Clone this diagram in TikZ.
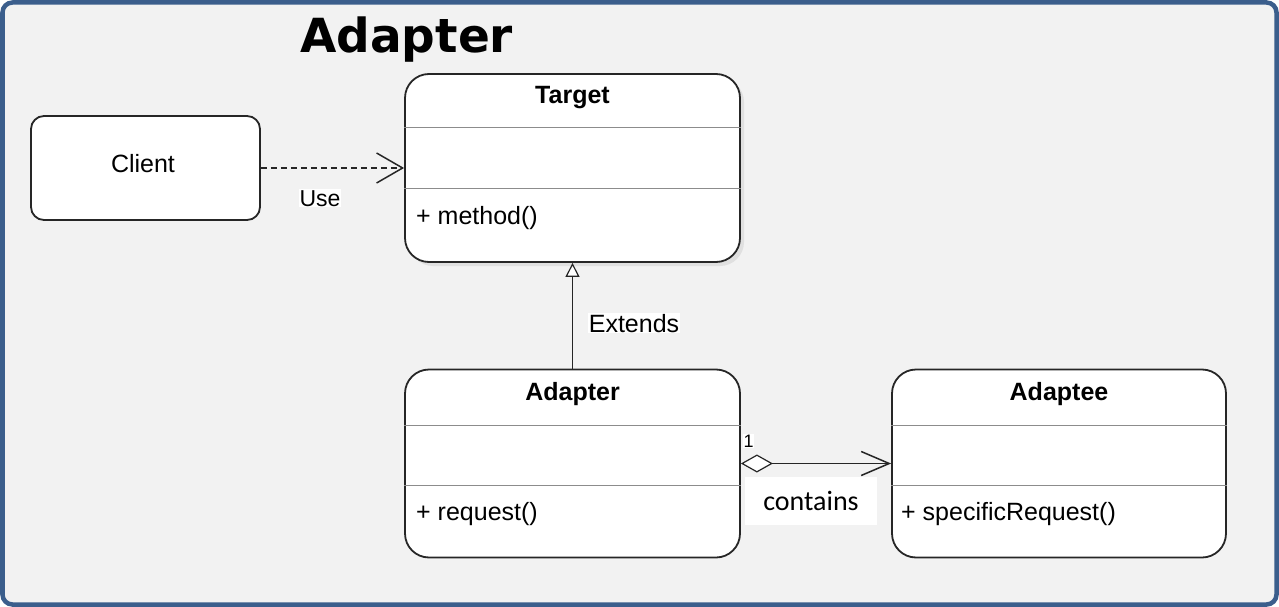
\documentclass[tikz,border=0pt]{standalone}
\usepackage{fontspec}
\setmainfont{Liberation Sans}
\newfontfamily\titlefont{DejaVu Sans}
\newfontfamily\calfont{Carlito}
\usetikzlibrary{arrows.meta}
\definecolor{framecol}{HTML}{3B5E8C}
\definecolor{bgcol}{HTML}{F2F2F2}
\definecolor{linecol}{HTML}{262626}
\definecolor{divcol}{HTML}{8C8C8C}
\begin{document}
\begin{tikzpicture}[x=1pt,y=-1pt,
  classbox/.style={draw=linecol, line width=1.8pt, fill=white, rounded corners=24pt,
    minimum width=335pt, minimum height=188pt, inner sep=0pt},
  clientbox/.style={draw=linecol, line width=1.8pt, fill=white, rounded corners=13pt,
    minimum width=229pt, minimum height=104pt, inner sep=0pt},
  divider/.style={draw=divcol, line width=1pt},
  txt/.style={font=\fontsize{25}{25}\selectfont, inner sep=0pt, anchor=base},
  member/.style={font=\fontsize{25}{25}\selectfont, inner sep=0pt, anchor=base west},
  cname/.style={font=\bfseries\fontsize{25}{25}\selectfont, inner sep=0pt, anchor=base},
  conn/.style={draw=linecol, line width=1.5pt},
  edgelbl/.style={fill=white, inner sep=1pt, anchor=base},
]
\useasboundingbox (0,0) rectangle (1279,607);
\fill[white] (0,0) rectangle (1279,607);
\draw[framecol, line width=4.5pt, fill=bgcol, rounded corners=10pt] (2.5,2.5) rectangle (1276.5,604.5);

\node[anchor=base west, inner sep=0pt, font=\titlefont\bfseries\fontsize{47}{47}\selectfont] (title) at (300,53) {Adapter};

% shadow of Target
\fill[black!12, rounded corners=24pt] (409,78) rectangle (744,266);

% class boxes
\node[classbox] (target) at (572.5,168) {};
\node[classbox] (adapter) at (572.5,463.5) {};
\node[classbox, minimum width=334pt] (adaptee) at (1059,463.5) {};
\node[clientbox] (client) at (145.5,168) {};

% dividers
\draw[divider] (target.west |- 0,128) -- (target.east |- 0,128);
\draw[divider] (target.west |- 0,188) -- (target.east |- 0,188);
\draw[divider] (adapter.west |- 0,425) -- (adapter.east |- 0,425);
\draw[divider] (adapter.west |- 0,485) -- (adapter.east |- 0,485);
\draw[divider] (adaptee.west |- 0,425) -- (adaptee.east |- 0,425);
\draw[divider] (adaptee.west |- 0,485) -- (adaptee.east |- 0,485);

% texts
\node[txt] (clienttxt) at (143,172) {Client};
\node[cname] (targetname) at (572.5,104) {Target};
\node[member] (targetop) at (416,224) {+ method()};
\node[cname] (adaptername) at (572.5,400) {Adapter};
\node[member] (adapterop) at (416,520) {+ request()};
\node[cname] (adapteename) at (1059,400) {Adaptee};
\node[member] (adapteeop) at (901,520) {+ specificRequest()};

% connectors
\draw[conn, dash pattern=on 6pt off 4pt, -{Straight Barb[length=26pt,width=30pt]}] (client.east) -- (target.west);
\node[edgelbl, font=\fontsize{23}{23}\selectfont] (uselbl) at (320,206) {Use};

\draw[conn, -{Triangle[open,length=14pt,width=14pt,fill=white,line width=1.2pt]}] (adapter.north) -- (target.south);
\node[edgelbl, font=\fontsize{25}{25}\selectfont] (extlbl) at (634,332) {Extends};

\draw[conn, {Diamond[open,length=32pt,width=18pt,fill=white,line width=1.2pt]}-{Straight Barb[length=28pt,width=24pt]}] (adapter.east) -- (adaptee.west);
\node[fill=white, inner sep=0.5pt, anchor=base west, font=\fontsize{18}{18}\selectfont] (onelbl) at (743,447) {1};
\node[fill=white, minimum width=132pt, minimum height=48pt, inner sep=0pt, font=\calfont\fontsize{28}{28}\selectfont] (containslbl) at (811,501) {contains};
\end{tikzpicture}
\end{document}
